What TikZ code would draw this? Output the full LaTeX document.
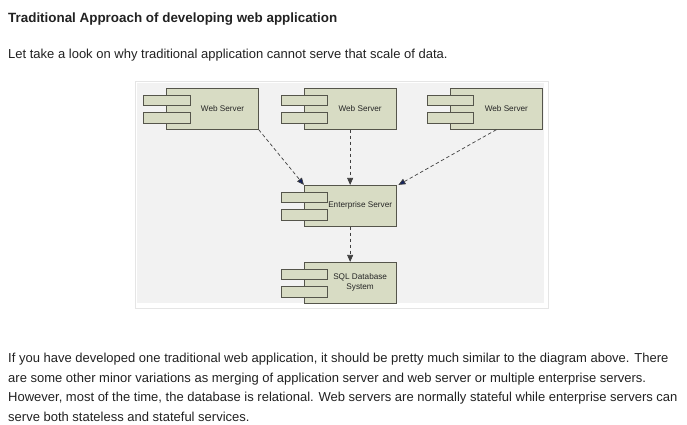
\documentclass[tikz,border=0pt]{standalone}
\usepackage{fontspec}
\setmainfont{Liberation Sans}
\usetikzlibrary{arrows.meta}
\definecolor{boxfill}{RGB}{216,220,196}
\definecolor{boxline}{RGB}{85,85,75}
\definecolor{panelgray}{RGB}{242,242,242}
\definecolor{navyarrow}{RGB}{20,35,95}
\definecolor{txt}{RGB}{34,34,34}
\newcommand\component[3]{%
  \node[mainbox] (#1) at (#2) {};
  \node[tabbox, anchor=north west] (#1a) at ([xshift=-23.4pt,yshift=-6.7pt]#1.north west) {};
  \node[tabbox, anchor=north west] (#1b) at ([xshift=-23.4pt,yshift=-24.4pt]#1.north west) {};
  \node[lbl] (#1l) at ([xshift=10pt]#1.center) {#3};
}
\begin{document}
\begin{tikzpicture}[x=1pt,y=-1pt,
  mainbox/.style={draw=boxline, fill=boxfill, line width=0.8pt, minimum width=91.7pt, minimum height=41pt, inner sep=0pt},
  tabbox/.style={draw=boxline, fill=boxfill, line width=0.8pt, minimum width=46.7pt, minimum height=10.5pt, inner sep=0pt},
  lbl/.style={font=\fontsize{8.2}{10}\selectfont, align=center, text=black!85},
  dep/.style={draw=black!75, dash pattern=on 3.5pt off 2.5pt, line width=0.7pt, -{Triangle[length=7pt,width=6pt]}},
  navytip/.style={-{Triangle[length=7pt,width=6pt,fill=navyarrow]}},
  para/.style={anchor=base west, inner sep=0pt, text=txt, font=\fontsize{13}{15}\selectfont}
]
\useasboundingbox (0,0) rectangle (687,425);
\fill[white] (0,0) rectangle (687,425);

% text
\node[para, font=\fontsize{13.4}{16}\selectfont\bfseries] (title) at (8,22.5) {Traditional Approach of developing web application};
\node[para] (intro) at (8,59) {Let take a look on why traditional application cannot serve that scale of data.};

% panel
\draw[black!10, line width=1pt, fill=white] (135.5,81.5) rectangle (548.5,308.5);
\fill[panelgray] (137,83) rectangle (544,303);

\begin{scope}
\clip (137,83) rectangle (544,303);
\component{ws1}{212.5,108.8}{Web Server}
\component{ws2}{350.15,108.8}{Web Server}
\component{ws3}{496.35,108.8}{Web Server}
\component{es}{350.15,205.8}{Enterprise Server}
\component{sql}{350.15,282.8}{SQL Database\\System}

\draw[dep, navytip] (ws1.south east) -- (es.north west);
\draw[dep] (ws2.south) -- (es.north);
\draw[dep, navytip] (ws3.south) -- ([xshift=2pt]es.north east);
\draw[dep] (es.south) -- (sql.north);
\end{scope}

% paragraph
\node[para] (p1) at (8,362.5) {If you have developed one traditional web application, it should be pretty much similar to the diagram above. There};
\node[para] (p2) at (8,382) {are some other minor variations as merging of application server and web server or multiple enterprise servers.};
\node[para] (p3) at (8,401.5) {However, most of the time, the database is relational. Web servers are normally stateful while enterprise servers can};
\node[para] (p4) at (8,421) {serve both stateless and stateful services.};
\end{tikzpicture}
\end{document}
